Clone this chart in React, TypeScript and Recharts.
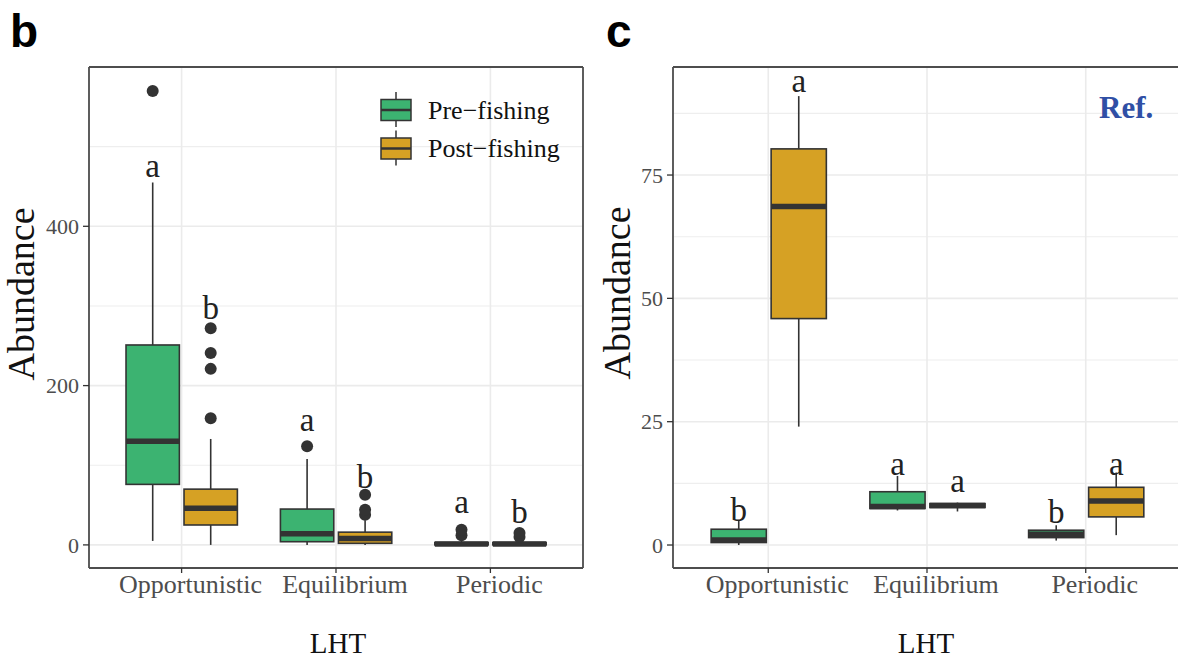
import React from 'react';
import { ComposedChart, Bar, Line, XAxis, YAxis, CartesianGrid } from 'recharts';

const categories = ['Opportunistic', 'Equilibrium', 'Periodic'];

// box stats per category: [low whisker, Q1, median, Q3, high whisker]
const bPre = [[5, 76, 130, 251, 455], [0, 4, 14, 45, 108], [0, 0, 1, 3, 8]];
const bPost = [[0, 25, 46, 70, 133], [0, 2, 8, 16, 31], [0, 0, 1, 3, 7]];
const bPreOutliers = [[570], [124], [12, 19]];
const bPostOutliers = [[159, 221, 241, 272], [38, 44, 63], [10, 15]];
const bPreLetters = ['a', 'a', 'a'];
const bPostLetters = ['b', 'b', 'b'];
const bPreLetterY = [476, 157, 54];
const bPostLetterY = [298, 85, 41];
const bTicks = [0, 200, 400];
const bMinor = [100, 300, 500];

const cPre = [[0, 0.5, 1, 3.2, 5], [7, 7.4, 7.8, 10.8, 14], [0.9, 1.5, 2.2, 3, 4]];
const cPost = [[24, 45.9, 68.6, 80.3, 91], [6.8, 7.6, 8, 8.4, 8.6], [2, 5.7, 8.9, 11.7, 14.7]];
const cPreOutliers: number[][] = [[], [], []];
const cPostOutliers: number[][] = [[], [], []];
const cPreLetters = ['b', 'a', 'b'];
const cPostLetters = ['a', 'a', 'a'];
const cPreLetterY = [7, 16.5, 6.6];
const cPostLetterY = [94, 13, 16.5];
const cTicks = [0, 25, 50, 75];
const cMinor = [12.5, 37.5, 62.5, 87.5];

const GREEN = '#3CB371';
const GOLD = '#D6A124';
const LINE = '#333333';
const FRAME = { stroke: '#4D4D4D', strokeWidth: 1.8 };
const SERIF = '"Liberation Serif", "DejaVu Serif", serif';

const buildRows = (
  pre: number[][], post: number[][], preOut: number[][], postOut: number[][],
  preL: string[], postL: string[], preLY: number[], postLY: number[]
) =>
  categories.map((lht, i) => ({
    lht,
    pre: pre[i], post: post[i],
    preOut: preOut[i], postOut: postOut[i],
    preLetter: preL[i], postLetter: postL[i],
    preLetterY: preLY[i], postLetterY: postLY[i],
  }));

const bRows = buildRows(bPre, bPost, bPreOutliers, bPostOutliers, bPreLetters, bPostLetters, bPreLetterY, bPostLetterY);
const cRows = buildRows(cPre, cPost, cPreOutliers, cPostOutliers, cPreLetters, cPostLetters, cPreLetterY, cPostLetterY);

const BoxShape = (props: any) => {
  const { x, y, width, height, payload, which, color } = props;
  if (x == null || !payload) return null;
  const s: number[] = payload[which];
  const outs: number[] = payload[which + 'Out'];
  const lo = s[0];
  const hi = s[4];
  const top = Math.min(y, y + height);
  const bot = Math.max(y, y + height);
  // bar spans [lo, hi]; map any value linearly through the same geometry
  const toY = (v: number) => bot - ((v - lo) / (hi - lo)) * (bot - top);
  const cx = x + width / 2;
  const bw = width * 0.92;
  const bx = cx - bw / 2;
  return (
    <g>
      <line x1={cx} x2={cx} y1={toY(s[0])} y2={toY(s[1])} stroke={LINE} strokeWidth={1.6} />
      <line x1={cx} x2={cx} y1={toY(s[3])} y2={toY(s[4])} stroke={LINE} strokeWidth={1.6} />
      <rect x={bx} y={toY(s[3])} width={bw} height={Math.max(toY(s[1]) - toY(s[3]), 0.5)} fill={color} stroke={LINE} strokeWidth={1.6} />
      <line x1={bx} x2={bx + bw} y1={toY(s[2])} y2={toY(s[2])} stroke={LINE} strokeWidth={5.5} />
      {outs.map((o, i) => (
        <circle key={i} cx={cx} cy={toY(o)} r={6} fill={LINE} />
      ))}
      <text x={cx} y={toY(payload[which + 'LetterY'])} textAnchor="middle" dominantBaseline="central"
        fontFamily={SERIF} fontSize={33} fill="#222">
        {payload[which + 'Letter']}
      </text>
    </g>
  );
};

interface PanelProps {
  rows: any[];
  left: number;
  width: number;
  yWidth: number;
  pad: number;
  domain: [number, number];
  ticks: number[];
  minor: number[];
}

const Panel = ({ rows, left, width, yWidth, pad, domain, ticks, minor }: PanelProps) => (
  <div style={{ position: 'absolute', left, top: 0 }}>
    <ComposedChart width={width} height={662} data={rows}
      margin={{ top: 66, right: 6, bottom: 0, left: 0 }} barCategoryGap="12.5%" barGap={0}>
      <CartesianGrid vertical={false} horizontalValues={minor} stroke="#EEEEEE" strokeWidth={1.1} />
      <CartesianGrid stroke="#EBEBEB" strokeWidth={1.6} />
      <XAxis dataKey="lht" height={94} padding={{ left: pad, right: pad }} interval={0}
        axisLine={FRAME} tickSize={5} tickMargin={2} tickLine={{ stroke: LINE, strokeWidth: 1.3 }}
        tick={{ fill: '#4D4D4D', fontSize: 26, fontFamily: SERIF, dx: 9 }} />
      <XAxis xAxisId="top" orientation="top" dataKey="lht" height={1} tick={false} tickLine={false}
        axisLine={FRAME} padding={{ left: pad, right: pad }} />
      <YAxis type="number" width={yWidth} domain={domain} ticks={ticks} axisLine={FRAME}
        tickSize={6} tickMargin={4} tickLine={{ stroke: LINE, strokeWidth: 1.3 }}
        tick={{ fill: '#4D4D4D', fontSize: 22, fontFamily: SERIF }} />
      <YAxis yAxisId="right" orientation="right" type="number" width={1} domain={domain}
        tick={false} tickLine={false} axisLine={FRAME} />
      <Bar dataKey={(d: any) => [d.pre[0], d.pre[4]]} fill={GREEN} isAnimationActive={false}
        shape={(p: any) => <BoxShape {...p} which="pre" color={GREEN} />} />
      <Bar dataKey={(d: any) => [d.post[0], d.post[4]]} fill={GOLD} isAnimationActive={false}
        shape={(p: any) => <BoxShape {...p} which="post" color={GOLD} />} />
      {/* invisible series so the top and right frame axes are drawn */}
      <Line xAxisId="top" yAxisId="right" dataKey={(d: any) => d.pre[2]} stroke="none" dot={false}
        activeDot={false} legendType="none" isAnimationActive={false} />
    </ComposedChart>
  </div>
);

const LegendKey = ({ y, color }: { y: number; color: string }) => (
  <g>
    <line x1={396} x2={396} y1={y - 18} y2={y + 17} stroke={LINE} strokeWidth={1.5} />
    <rect x={381} y={y - 10.5} width={30} height={21} fill={color} stroke={LINE} strokeWidth={1.5} />
    <line x1={381} x2={411} y1={y} y2={y} stroke={LINE} strokeWidth={2.5} />
  </g>
);

export default function App() {
  return (
    <div style={{ position: 'absolute', left: 0, top: 0, width: 1178, height: 662, overflow: 'hidden', background: '#fff' }}>
      <Panel rows={bRows} left={0} width={590} yWidth={89} pad={15.4} domain={[-29, 600]} ticks={bTicks} minor={bMinor} />
      <Panel rows={cRows} left={590} width={598} yWidth={83} pad={15.9} domain={[-4.66, 96.9]} ticks={cTicks} minor={cMinor} />
      <svg width={1178} height={662} style={{ position: 'absolute', left: 0, top: 0, pointerEvents: 'none' }}>
        <text x={10} y={47} fontFamily='"Liberation Sans", Arial, sans-serif' fontWeight="bold" fontSize={46} fill="#000">b</text>
        <text x={606} y={47} fontFamily='"Liberation Sans", Arial, sans-serif' fontWeight="bold" fontSize={46} fill="#000">c</text>
        <text x={34} y={294} transform="rotate(-90, 34, 294)" textAnchor="middle" fontFamily={SERIF} fontSize={38} fill="#111">Abundance</text>
        <text x={630} y={293} transform="rotate(-90, 630, 293)" textAnchor="middle" fontFamily={SERIF} fontSize={38} fill="#111">Abundance</text>
        <text x={338} y={653} textAnchor="middle" fontFamily={SERIF} fontSize={29} fill="#111">LHT</text>
        <text x={926} y={653} textAnchor="middle" fontFamily={SERIF} fontSize={29} fill="#111">LHT</text>
        <text x={1099} y={118} fontFamily={SERIF} fontWeight="bold" fontSize={31} fill="#2F4FA5">Ref.</text>
        <LegendKey y={110} color={GREEN} />
        <LegendKey y={148.5} color={GOLD} />
        <text x={428} y={110} dominantBaseline="central" fontFamily={SERIF} fontSize={26} fill="#111">Pre−fishing</text>
        <text x={428} y={148.5} dominantBaseline="central" fontFamily={SERIF} fontSize={26} fill="#111">Post−fishing</text>
      </svg>
    </div>
  );
}
